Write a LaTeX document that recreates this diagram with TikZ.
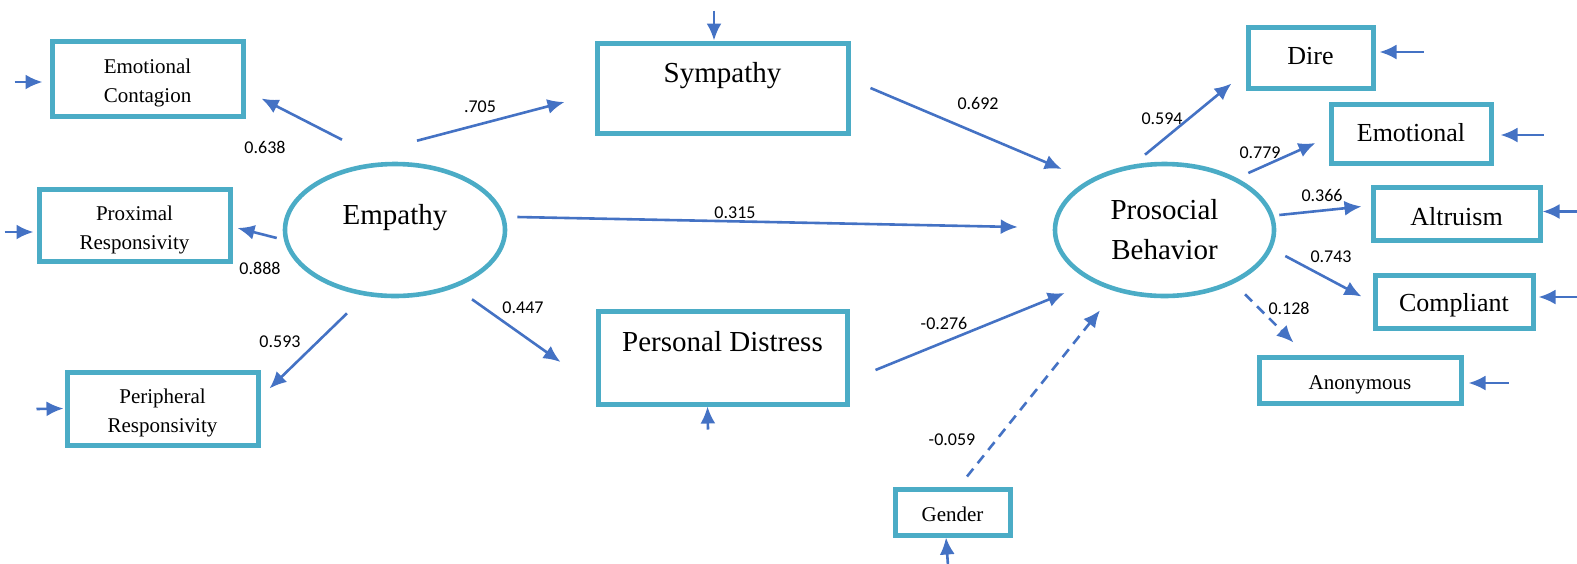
\documentclass[tikz,border=0pt]{standalone}
\usepackage{fontspec}
\setmainfont{Liberation Serif}
\newfontfamily\numfont{Carlito}
\usetikzlibrary{arrows.meta,shapes.geometric,positioning}
\definecolor{boxblue}{RGB}{75,172,198}
\definecolor{arrblue}{RGB}{68,114,196}
\tikzstyle{obs} = [
  rectangle, draw=boxblue, line width=2.5pt, text centered, align=center,
  inner sep=0pt
]
\tikzstyle{lat} = [
  ellipse, draw=boxblue, line width=2.3pt, align=center, inner sep=0pt,
  font=\fontsize{14.5}{20}\selectfont
]
\tikzstyle{twoline} = [
  obs, minimum width=95.5pt, text width=95pt, text height=9pt, text depth=14pt,
  font=\fontsize{10.5}{14.5}\selectfont
]
\tikzstyle{link} = [
  draw=arrblue, line width=1.3pt, -{Latex[length=8.5pt,width=7.5pt]}
]
\tikzstyle{coef} = [font=\numfont\fontsize{9}{11}\selectfont, inner sep=0pt]

\begin{document}
\begin{tikzpicture}[x=0.5pt, y=-0.5pt]
    \useasboundingbox (0,0) rectangle (1577,563);
    % latent variables
    \node[lat, minimum width=110pt, minimum height=66pt, text height=10pt, text depth=15.5pt] (emp) at (395,230) {Empathy};
    \node[lat, minimum width=109.5pt, minimum height=66pt] (pro) at (1164.5,230) {Prosocial\\Behavior};
    % empathy indicators
    \node[twoline, minimum height=37.5pt] (ec) at (147.5,78.5) {Emotional\\Contagion};
    \node[twoline, minimum height=36pt] (pr) at (134.5,225) {Proximal\\Responsivity};
    \node[twoline, minimum height=36.5pt] (pe) at (162.5,408.5) {Peripheral\\Responsivity};
    % mediators
    \node[obs, minimum width=125.5pt, minimum height=45pt, text height=10pt, text depth=16pt, font=\fontsize{14.5}{20}\selectfont] (sym) at (722.5,88) {Sympathy};
    \node[obs, minimum width=124.5pt, minimum height=46.5pt, text height=10pt, text depth=16pt, font=\fontsize{14.5}{20}\selectfont] (pd) at (722.5,357.5) {Personal Distress};
    \node[obs, minimum width=57.5pt, minimum height=23pt, text height=11.9pt, text depth=2pt, font=\fontsize{10.5}{14.5}\selectfont] (gen) at (952.5,512) {Gender};
    % prosocial indicators
    \node[obs, minimum width=62.5pt, minimum height=30.5pt, text height=8.6pt, text depth=2pt, font=\fontsize{13}{16}\selectfont] (dire) at (1310.5,57.5) {Dire};
    \node[obs, minimum width=80pt, minimum height=29.5pt, text height=9.6pt, text depth=2pt, font=\fontsize{13}{16}\selectfont] (emo) at (1411,133.5) {Emotional};
    \node[obs, minimum width=83.5pt, minimum height=26.5pt, text height=13.6pt, text depth=2pt, font=\fontsize{13}{16}\selectfont] (alt) at (1456.5,213.5) {Altruism};
    \node[obs, minimum width=79pt, minimum height=26.5pt, text height=12.1pt, text depth=2pt, font=\fontsize{13}{16}\selectfont] (com) at (1454,301.5) {Compliant};
    \node[obs, minimum width=101pt, minimum height=23pt, text height=11.9pt, text depth=2pt, font=\fontsize{10.5}{14.5}\selectfont] (ano) at (1360,380) {Anonymous};

    % paths
    \draw[link] ([shift={(-53,-22)}]emp.north) -- ([shift={(16,-20)}]ec.south east);
    \draw[link] ([shift={(-6,8)}]emp.west) -- ([shift={(5,3)}]pr.east);
    \draw[link] ([shift={(-48,15)}]emp.south) -- ([shift={(9,19)}]pe.north east);
    \draw[link] ([shift={(22,-21)}]emp.north) -- ([shift={(-30,14)}]sym.west);
    \draw[link] ([shift={(10,-13)}]emp.east) -- ([shift={(-35,-3)}]pro.west);
    \draw[link] ([shift={(77,1)}]emp.south) -- ([shift={(-35,4.5)}]pd.west);
    \draw[link] ([shift={(20,0)}]sym.east) -- ([shift={(9,-61)}]pro.west);
    \draw[link] ([shift={(26,12.5)}]pd.east) -- ([shift={(12,63)}]pro.west);
    \draw[link, dash pattern=on 5pt off 3.5pt] ([shift={(14.5,-10)}]gen.north) -- ([shift={(-64.5,12)}]pro.south);
    \draw[link] ([shift={(-19.5,-7)}]pro.north) -- ([shift={(-14,-7)}]dire.south west);
    \draw[link] ([shift={(-28,-57)}]pro.east) -- ([shift={(-13,9.5)}]emo.west);
    \draw[link] ([shift={(3,-15)}]pro.east) -- ([shift={(-9,-7)}]alt.west);
    \draw[link] ([shift={(9,26)}]pro.east) -- ([shift={(-11,-5)}]com.west);
    \draw[link, dash pattern=on 5pt off 3.5pt] ([shift={(80.5,-4)}]pro.south) -- ([shift={(37,-12)}]ano.north west);

    % error terms
    \draw[link] ([shift={(-35,3.5)}]ec.west) -- ([shift={(-7,3.5)}]ec.west);
    \draw[link] ([shift={(-32,7)}]pr.west) -- ([shift={(-3,7)}]pr.west);
    \draw[link] ([shift={(-28,0.5)}]pe.west) -- ([shift={(-1,0)}]pe.west);
    \draw[link] ([shift={(-8.5,-30)}]sym.north) -- ([shift={(-8.5,0)}]sym.north);
    \draw[link] ([shift={(-14.5,23)}]pd.south) -- ([shift={(-15,0)}]pd.south);
    \draw[link] ([shift={(-4.5,28)}]gen.south) -- ([shift={(-6.5,0)}]gen.south);
    \draw[link] ([shift={(48,-5.5)}]dire.east) -- ([shift={(4,-5.5)}]dire.east);
    \draw[link] ([shift={(50,1.5)}]emo.east) -- ([shift={(7,1.5)}]emo.east);
    \draw[link] ([shift={(38,-2)}]alt.east) -- ([shift={(0,-2)}]alt.east);
    \draw[link] ([shift={(44,-4.5)}]com.east) -- ([shift={(3,-4.5)}]com.east);
    \draw[link] ([shift={(45,3)}]ano.east) -- ([shift={(5,3)}]ano.east);

    % coefficients
    \node[coef] (c-ec) at (265,147) {0.638};
    \node[coef] (c-pr) at (260,268) {0.888};
    \node[coef] (c-pe) at (280,342) {0.593};
    \node[coef] (c-sym) at (480,107) {.705};
    \node[coef] (c-pro) at (735,213) {0.315};
    \node[coef] (c-pd) at (523,308) {0.447};
    \node[coef] (c-sp) at (978,103) {0.692};
    \node[coef] (c-dp) at (944,323) {-0.276};
    \node[coef] (c-gen) at (952,440) {-0.059};
    \node[coef] (c-dire) at (1162,119) {0.594};
    \node[coef] (c-emo) at (1260,153) {0.779};
    \node[coef] (c-alt) at (1322,195) {0.366};
    \node[coef] (c-com) at (1331,257) {0.743};
    \node[coef] (c-ano) at (1289,308) {0.128};
\end{tikzpicture}
\end{document}
